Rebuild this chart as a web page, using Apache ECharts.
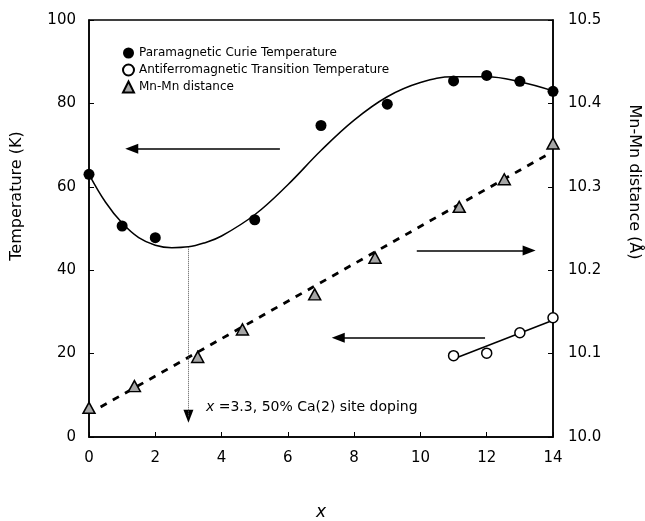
<!DOCTYPE html>
<html><head><meta charset="utf-8">
<script src="https://cdn.jsdelivr.net/npm/echarts@6/dist/echarts.min.js"></script>
<style>html,body{margin:0;padding:0;background:#fff}#c{width:645px;height:521px}</style>
</head><body><div id="c"></div>
<script>
// Paramagnetic Curie temperature (left axis, K)
const curieX = [0, 1, 2, 5, 7, 9, 11, 12, 13, 14];
const curieT = [63.0, 50.6, 47.8, 52.1, 74.7, 79.8, 85.4, 86.7, 85.3, 82.9];
// Antiferromagnetic transition temperature (left axis, K)
const afmX = [11, 12, 13, 14];
const afmT = [19.5, 20.1, 25.0, 28.6];
// Mn-Mn distance (right axis, Å)
const mnX = [0, 1.37, 3.28, 4.63, 6.81, 8.63, 11.17, 12.53, 14.0];
const mnD = [10.035, 10.061, 10.096, 10.129, 10.171, 10.215, 10.276, 10.309, 10.352];
// Fitted curves
const curieFitX = [0, 0.5, 1, 1.5, 2, 2.5, 3, 3.5, 4, 5, 6, 7, 8, 9, 10, 11, 12, 13, 14];
const curieFitT = [63, 56.3, 51.3, 47.8, 46, 45.4, 45.6, 46.6, 48.2, 53.3, 60.5, 68.7, 76, 81.6, 85, 86.4, 86.4, 85.2, 83];
const mnFitX = [0.35, 13.85];
const mnFitD = [10.036, 10.339];
const afmFitX = [11.05, 14];
const afmFitT = [18.9, 28.0];
// Annotation arrows (x, K): shaft start, arrow-head centre, head direction
const arrowFrom = [[5.76, 69.1], [9.89, 44.75], [11.95, 23.8], [3.0, 45.5]];
const arrowTo = [[1.29, 69.1], [13.28, 44.75], [7.52, 23.8], [3.0, 4.96]];
const arrowRot = [90, -90, 90, 180];
// Axis tick ranges
const xRange = [0, 14, 2];
const tRange = [0, 100, 20];
const dRange = [10.0, 10.5, 0.1];

const FONT = 'DejaVu Sans';
const zip = (a, b) => a.map((v, i) => [v, b[i]]);

const chart = echarts.init(document.getElementById('c'), null, {renderer: 'canvas'});
const axisCommon = {
  axisLine: {show: true, lineStyle: {color: '#000', width: 1.5}},
  axisTick: {show: true, inside: true, length: 5, lineStyle: {color: '#000', width: 1}},
  splitLine: {show: false},
  axisLabel: {color: '#000', fontFamily: FONT, fontSize: 15}
};
chart.setOption({
  animation: false,
  backgroundColor: '#fff',
  grid: {left: 89, right: 92, top: 20, bottom: 84, show: true, borderColor: '#000', borderWidth: 1.5, containLabel: false},
  xAxis: Object.assign({}, axisCommon, {type: 'value', min: xRange[0], max: xRange[1], interval: xRange[2],
    axisLabel: Object.assign({}, axisCommon.axisLabel, {margin: 14})}),
  yAxis: [
    Object.assign({}, axisCommon, {type: 'value', min: tRange[0], max: tRange[1], interval: tRange[2],
      axisLabel: Object.assign({}, axisCommon.axisLabel, {margin: 13})}),
    Object.assign({}, axisCommon, {type: 'value', position: 'right', min: dRange[0], max: dRange[1], interval: dRange[2],
      axisLabel: Object.assign({}, axisCommon.axisLabel, {margin: 15, formatter: v => v.toFixed(1)})})
  ],
  legend: {
    orient: 'vertical', left: 117, top: 41, itemWidth: 11, itemHeight: 11, itemGap: 3,
    data: ['Paramagnetic Curie Temperature', 'Antiferromagnetic Transition Temperature', 'Mn-Mn distance'],
    textStyle: {color: '#000', fontFamily: FONT, fontSize: 12, lineHeight: 14},
    selectedMode: false
  },
  graphic: [
    {type: 'text', x: 17, y: 196, rotation: Math.PI / 2,
      style: {text: 'Temperature (K)', fill: '#000', font: '16px "DejaVu Sans"', align: 'center', verticalAlign: 'middle'}},
    {type: 'text', x: 634, y: 182, rotation: -Math.PI / 2,
      style: {text: 'Mn-Mn distance (Å)', fill: '#000', font: '16px "DejaVu Sans"', align: 'center', verticalAlign: 'middle'}},
    {type: 'text', x: 321, y: 513,
      style: {text: 'x', fill: '#000', font: 'italic 17px "DejaVu Sans"', align: 'center', verticalAlign: 'middle'}},
    {type: 'text', x: 206, y: 407,
      style: {text: '{i|x} =3.3, 50% Ca(2) site doping', fill: '#000', font: '14px "DejaVu Sans"', verticalAlign: 'middle',
        rich: {i: {fontStyle: 'italic', fontFamily: FONT, fontSize: 14, fill: '#000'}}}}
  ],
  series: [
    {
      name: 'curieFit', type: 'line', xAxisIndex: 0, yAxisIndex: 0, data: zip(curieFitX, curieFitT),
      smooth: 0.4, showSymbol: false, silent: true, z: 2,
      lineStyle: {color: '#000', width: 1.5},
      markLine: {
        silent: true, symbol: 'none', label: {show: false},
        lineStyle: {color: '#000', width: 1.5, type: 'solid'},
        data: arrowFrom.slice(0, 3).map((f, i) => [{coord: f}, {coord: arrowTo[i]}])
      }
    },
    {
      name: 'dopingLine', type: 'line', xAxisIndex: 0, yAxisIndex: 0, data: [], silent: true,
      markLine: {
        silent: true, symbol: 'none', label: {show: false},
        lineStyle: {color: '#555', width: 1, type: [1, 1]},
        data: [[{coord: arrowFrom[3]}, {coord: arrowTo[3]}]]
      }
    },
    {
      name: 'arrowHeads', type: 'scatter', xAxisIndex: 0, yAxisIndex: 0, silent: true, z: 4,
      symbol: 'triangle', symbolSize: [10, 13],
      itemStyle: {color: '#000', opacity: 1},
      data: arrowTo.map((p, i) => ({value: p, symbolRotate: arrowRot[i]}))
    },
    {
      name: 'mnFit', type: 'line', xAxisIndex: 0, yAxisIndex: 1, data: zip(mnFitX, mnFitD),
      showSymbol: false, silent: true, z: 2,
      lineStyle: {color: '#000', width: 2.8, type: [7, 7]}
    },
    {
      name: 'afmFit', type: 'line', xAxisIndex: 0, yAxisIndex: 0, data: zip(afmFitX, afmFitT),
      showSymbol: false, silent: true, z: 2,
      lineStyle: {color: '#000', width: 1.5}
    },
    {
      name: 'Paramagnetic Curie Temperature', type: 'scatter', xAxisIndex: 0, yAxisIndex: 0,
      data: zip(curieX, curieT), symbol: 'circle', symbolSize: 11, z: 5,
      itemStyle: {color: '#000', opacity: 1}
    },
    {
      name: 'Antiferromagnetic Transition Temperature', type: 'scatter', xAxisIndex: 0, yAxisIndex: 0,
      data: zip(afmX, afmT), symbol: 'circle', symbolSize: 10, z: 5,
      itemStyle: {color: '#fff', borderColor: '#000', borderWidth: 1.5, opacity: 1}
    },
    {
      name: 'Mn-Mn distance', type: 'scatter', xAxisIndex: 0, yAxisIndex: 1,
      data: zip(mnX, mnD), symbol: 'triangle', symbolSize: [12, 11], z: 5,
      itemStyle: {color: '#a6a6a6', borderColor: '#000', borderWidth: 1.5, opacity: 1}
    }
  ]
});
</script></body></html>
